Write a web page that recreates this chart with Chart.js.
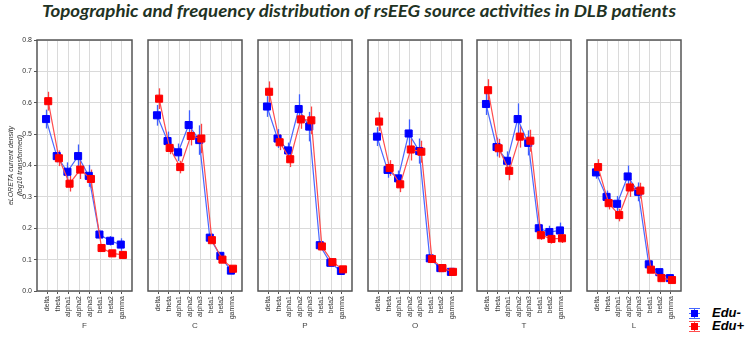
<!DOCTYPE html>
<html><head><meta charset="utf-8">
<script src="https://cdn.jsdelivr.net/npm/chart.js@4.4.1/dist/chart.umd.min.js"></script>
<style>
body{margin:0;background:#fff;width:747px;height:338px;overflow:hidden;position:relative;font-family:"Liberation Sans",Arial,sans-serif}
canvas{position:absolute}
#title{position:absolute;top:1px;left:42px;white-space:nowrap;font-style:italic;font-weight:bold;font-size:17px;font-family:Lato,"Open Sans",sans-serif;color:#1f3324;transform-origin:0 0;line-height:20px}
.leg{position:absolute;left:688px;height:13px;width:60px}
.ic{position:absolute;left:1px;top:0;width:11px;height:13px}
.ic i{position:absolute;display:block}
.lt{position:absolute;left:24px;top:-2px;font:italic bold 13px "Liberation Sans",Arial,sans-serif;color:#000;line-height:16px}
</style></head><body>
<div id="title">Topographic and frequency distribution of rsEEG source activities in DLB patients</div>
<div class="leg" style="top:307px">
  <span class="ic">
    <i style="left:0;top:1px;width:11px;height:1px;background:#4466ff"></i>
    <i style="left:0;top:6px;width:11px;height:1px;background:#4466ff"></i>
    <i style="left:0;top:11px;width:11px;height:1px;background:#4466ff"></i>
    <i style="left:5px;top:1px;width:1px;height:11px;background:#4466ff"></i>
    <i style="left:2px;top:3px;width:7px;height:7px;background:#0000ff"></i>
  </span>
  <span class="lt">Edu-</span>
</div>
<div class="leg" style="top:320px">
  <span class="ic">
    <i style="left:0;top:1px;width:11px;height:1px;background:#ff4d4d"></i>
    <i style="left:0;top:6px;width:11px;height:1px;background:#ff4d4d"></i>
    <i style="left:0;top:11px;width:11px;height:1px;background:#ff4d4d"></i>
    <i style="left:5px;top:1px;width:1px;height:11px;background:#ff4d4d"></i>
    <i style="left:2px;top:3px;width:7px;height:7px;background:#ff0000"></i>
  </span>
  <span class="lt">Edu+</span>
</div>
<script>
// ---- data ----
const categories = ['delta','theta','alpha1','alpha2','alpha3','beta1','beta2','gamma'];
const regions = ['F','C','P','O','T','L'];
const yTicks = [0,0.1,0.2,0.3,0.4,0.5,0.6,0.7,0.8];

// Edu- (blue) means
const eduMinusF = [0.548,0.430,0.380,0.430,0.367,0.180,0.160,0.148];
const eduMinusC = [0.560,0.478,0.442,0.529,0.481,0.170,0.112,0.065];
const eduMinusP = [0.588,0.486,0.448,0.580,0.524,0.146,0.090,0.064];
const eduMinusO = [0.492,0.386,0.359,0.502,0.446,0.104,0.073,0.061];
const eduMinusT = [0.596,0.459,0.415,0.548,0.472,0.200,0.188,0.193];
const eduMinusL = [0.378,0.300,0.278,0.365,0.316,0.085,0.060,0.041];
// Edu- error half-widths
const errMinusF = [0.030,0.020,0.030,0.037,0.035,0.012,0.015,0.020];
const errMinusC = [0.033,0.030,0.028,0.047,0.047,0.010,0.010,0.008];
const errMinusP = [0.033,0.030,0.025,0.047,0.047,0.010,0.010,0.008];
const errMinusO = [0.030,0.025,0.025,0.045,0.040,0.006,0.006,0.006];
const errMinusT = [0.035,0.030,0.030,0.050,0.040,0.015,0.020,0.025];
const errMinusL = [0.020,0.020,0.025,0.035,0.030,0.008,0.008,0.008];

// Edu+ (red) means
const eduPlusF = [0.605,0.423,0.342,0.387,0.357,0.137,0.120,0.115];
const eduPlusC = [0.613,0.456,0.395,0.494,0.486,0.162,0.100,0.071];
const eduPlusP = [0.635,0.474,0.420,0.547,0.544,0.142,0.092,0.069];
const eduPlusO = [0.540,0.392,0.340,0.451,0.444,0.102,0.073,0.061];
const eduPlusT = [0.640,0.455,0.383,0.492,0.479,0.178,0.166,0.168];
const eduPlusL = [0.395,0.280,0.242,0.330,0.320,0.068,0.041,0.035];
// Edu+ error half-widths
const errPlusF = [0.030,0.025,0.025,0.030,0.030,0.010,0.010,0.012];
const errPlusC = [0.033,0.020,0.020,0.030,0.047,0.010,0.008,0.008];
const errPlusP = [0.033,0.025,0.025,0.030,0.044,0.008,0.008,0.008];
const errPlusO = [0.030,0.025,0.025,0.035,0.035,0.006,0.006,0.006];
const errPlusT = [0.035,0.030,0.030,0.035,0.035,0.015,0.015,0.015];
const errPlusL = [0.025,0.020,0.020,0.030,0.025,0.008,0.008,0.008];

const minusSets = [eduMinusF,eduMinusC,eduMinusP,eduMinusO,eduMinusT,eduMinusL];
const minusErrs = [errMinusF,errMinusC,errMinusP,errMinusO,errMinusT,errMinusL];
const plusSets = [eduPlusF,eduPlusC,eduPlusP,eduPlusO,eduPlusT,eduPlusL];
const plusErrs = [errPlusF,errPlusC,errPlusP,errPlusO,errPlusT,errPlusL];

// ---- layout ----
const panelLeft = [37,147,257,367,476,586];
const panelW = 96;
const topY = 30, canvasH = 308;

const errPlugin = {
  id:'errbars',
  beforeDatasetsDraw(chart){
    const ctx = chart.ctx, xs = chart.scales.x, ys = chart.scales.y;
    chart.data.datasets.forEach(ds=>{
      ctx.save();
      ctx.strokeStyle = ds.errColor; ctx.lineWidth = 1.3;
      ds.data.forEach((p,i)=>{
        const e = ds.errors[i];
        const px = Math.round(xs.getPixelForValue(p.x))+0.5;
        ctx.beginPath();
        ctx.moveTo(px, ys.getPixelForValue(p.y+e));
        ctx.lineTo(px, ys.getPixelForValue(p.y-e));
        ctx.stroke();
      });
      ctx.restore();
    });
  },
  afterDraw(chart){
    const a = chart.chartArea, ctx = chart.ctx;
    ctx.save();
    ctx.strokeStyle = '#555'; ctx.lineWidth = 1.5;
    ctx.strokeRect(a.left, a.top, a.right-a.left, a.bottom-a.top);
    ctx.restore();
  }
};

function makePanel(idx){
  const first = idx===0;
  const c = document.createElement('canvas');
  const left = first ? 0 : panelLeft[idx]-5;
  const width = first ? panelLeft[0]+panelW+5 : panelW+10;
  c.width = width; c.height = canvasH;
  c.style.left = left+'px'; c.style.top = topY+'px';
  c.style.width = width+'px'; c.style.height = canvasH+'px';
  document.body.appendChild(c);
  new Chart(c, {
    type:'line',
    data:{datasets:[
      {label:'Edu-', data:minusSets[idx].map((v,i)=>({x:i-0.1,y:v})), errors:minusErrs[idx], errColor:'#3f5fff',
       borderColor:'#4a68ff', borderWidth:1.2, pointStyle:'rect', pointRadius:5, pointBackgroundColor:'#0000ff',
       pointBorderColor:'#0000ff', pointBorderWidth:1, tension:0, order:2},
      {label:'Edu+', data:plusSets[idx].map((v,i)=>({x:i+0.1,y:v})), errors:plusErrs[idx], errColor:'#ff4040',
       borderColor:'#ff4d4d', borderWidth:1.2, pointStyle:'rect', pointRadius:5, pointBackgroundColor:'#ff0000',
       pointBorderColor:'#ff0000', pointBorderWidth:1, tension:0, order:1}
    ]},
    options:{
      responsive:false, animation:false, devicePixelRatio:1,
      layout:{padding:{left:first?0:5, right:5, top:10, bottom:0}},
      plugins:{legend:{display:false}, tooltip:{enabled:false}},
      scales:{
        x:{type:'linear', min:-0.95, max:7.95,
           afterBuildTicks:s=>{ s.ticks = categories.map((cat,i)=>({value:i})); },
           afterFit:s=>{ s.height = 47; },
           ticks:{callback:v=>categories[v], minRotation:90, maxRotation:90, autoSkip:false,
                  font:{size:7, family:'"Liberation Sans", Arial, sans-serif'}, color:'#333', padding:2},
           grid:{color:'#dadada', tickColor:'#555', tickLength:3},
           border:{display:false},
           title:{display:true, text:regions[idx], font:{size:8, family:'"Liberation Sans", Arial, sans-serif'}, color:'#444', padding:{top:0,bottom:7}}},
        y:{min:0, max:0.8,
           afterBuildTicks:s=>{ s.ticks = yTicks.map(v=>({value:v})); },
           afterFit:s=>{ s.width = first?37:0; },
           ticks:{display:first, callback:v=>v.toFixed(1), font:{size:7, family:'"Liberation Sans", Arial, sans-serif'}, color:'#333', padding:2},
           grid:{color:'#dadada', tickColor:'#555', tickLength:3, drawTicks:first},
           border:{display:false},
           title:{display:first, text:['eLORETA current density','(log10 transformed)'],
                  font:{size:7, style:'italic', family:'"Liberation Sans", Arial, sans-serif'}, color:'#333', padding:{top:7,bottom:0}}}
      }
    },
    plugins:[errPlugin]
  });
}
regions.forEach((r,i)=>makePanel(i));

// fit title width
const t = document.getElementById('title');
const w = t.getBoundingClientRect().width;
t.style.transform = 'scaleX('+(634/w)+')';
</script>
</body></html>
